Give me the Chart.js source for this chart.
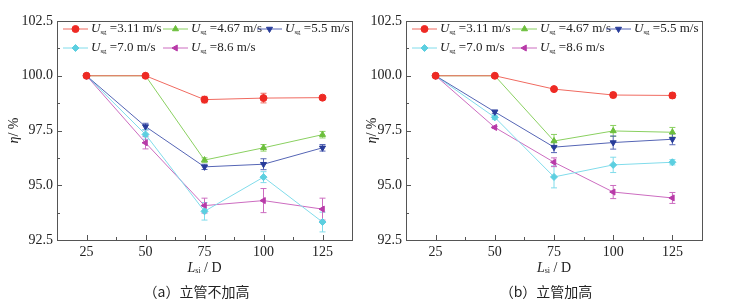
<!DOCTYPE html>
<html>
<head>
<meta charset="utf-8">
<script src="https://cdn.jsdelivr.net/npm/chart.js@4/dist/chart.umd.min.js"></script>
<style>
  body { margin: 0; background: #fff; }
  #wrap { position: relative; width: 732px; height: 307px; }
  canvas { position: absolute; top: 0; }
</style>
</head>
<body>
<div id="wrap">
  <canvas id="chart-a" width="366" height="307" style="left:0"></canvas>
  <canvas id="chart-b" width="366" height="307" style="left:366px"></canvas>
</div>
<script>
const xValues = [25, 50, 75, 100, 125];
const speedLabels = ['3.11', '4.67', '5.5', '7.0', '8.6'];
const yTickValues = [92.5, 95.0, 97.5, 100.0, 102.5];

// (a) riser not raised
const a311 = [100, 100, 98.91, 98.98, 99.0];
const a467 = [100, 100, 96.15, 96.71, 97.31];
const a55 = [100, 97.68, 95.84, 95.96, 96.71];
const a70 = [100, 97.32, 93.81, 95.37, 93.32];
const a86 = [100, 96.94, 94.07, 94.30, 93.91];
const aErr311 = [0, 0, 0.15, 0.22, 0.06];
const aErr467 = [0, 0, 0.1, 0.15, 0.15];
const aErr55 = [0, 0.15, 0.12, 0.25, 0.15];
const aErr70 = [0, 0.22, 0.4, 0.25, 0.45];
const aErr86 = [0, 0.28, 0.34, 0.55, 0.5];

// (b) riser raised
const b311 = [100, 100, 99.39, 99.12, 99.1];
const b467 = [100, 100, 97.02, 97.48, 97.42];
const b55 = [100, 98.35, 96.74, 96.95, 97.1];
const b70 = [100, 98.1, 95.38, 95.93, 96.05];
const b86 = [100, 97.64, 96.05, 94.69, 94.42];
const bErr311 = [0, 0, 0.05, 0.12, 0.12];
const bErr467 = [0, 0, 0.3, 0.25, 0.22];
const bErr55 = [0, 0.08, 0.25, 0.3, 0.25];
const bErr70 = [0, 0.1, 0.5, 0.35, 0.12];
const bErr86 = [0, 0.05, 0.2, 0.3, 0.25];

const seriesStyles = [
    { color: '#ee2a24', line: '#f06a60', pointStyle: 'circle', rotation: 0 },
    { color: '#6cbf3c', line: '#8ad060', pointStyle: 'triangle', rotation: 0 },
    { color: '#283c9a', line: '#5565b5', pointStyle: 'triangle', rotation: 180 },
    { color: '#5ccfe0', line: '#80dceb', pointStyle: 'rectRot', rotation: 0 },
    { color: '#b83aa8', line: '#cc6cc0', pointStyle: 'triangle', rotation: 270 },
];

const serif = '"Liberation Serif", "DejaVu Serif", serif';
const textColor = '#222';
const frameColor = '#555';

function drawParts(ctx, parts, x, y) {
    let cx = x;
    parts.forEach(p => {
        ctx.font = p.font;
        ctx.fillText(p.t, cx, y + (p.dy || 0));
        cx += ctx.measureText(p.t).width;
    });
    return cx - x;
}

function partsWidth(ctx, parts) {
    let w = 0;
    parts.forEach(p => { ctx.font = p.font; w += ctx.measureText(p.t).width; });
    return w;
}

// error bars drawn under the points, from each dataset's errors array
const errorBars = {
    id: 'errorBars',
    beforeDatasetsDraw(chart) {
        const ctx = chart.ctx;
        const x = chart.scales.x, y = chart.scales.y;
        chart.data.datasets.forEach(ds => {
            ctx.save();
            ctx.strokeStyle = ds.errColor;
            ctx.lineWidth = 1;
            ds.data.forEach((p, i) => {
                const e = ds.errors[i];
                if (!e) return;
                const px = x.getPixelForValue(p.x);
                const top = y.getPixelForValue(p.y + e);
                const bot = y.getPixelForValue(p.y - e);
                ctx.beginPath();
                ctx.moveTo(px, top); ctx.lineTo(px, bot);
                ctx.moveTo(px - 3, top); ctx.lineTo(px + 3, top);
                ctx.moveTo(px - 3, bot); ctx.lineTo(px + 3, bot);
                ctx.stroke();
            });
            ctx.restore();
        });
    }
};

const decor = {
    id: 'decor',
    afterDraw(chart, args, opts) {
        const ctx = chart.ctx;
        const area = chart.chartArea;
        const x = chart.scales.x, y = chart.scales.y;
        ctx.save();
        ctx.strokeStyle = frameColor;
        ctx.lineWidth = 1;
        ctx.strokeRect(Math.round(area.left) + 0.5, Math.round(area.top) + 0.5,
            Math.round(area.right - area.left), Math.round(area.bottom - area.top));

        // inward ticks
        ctx.beginPath();
        for (let v = 12.5; v <= 137.5; v += 12.5) {
            const px = Math.round(x.getPixelForValue(v)) + 0.5;
            const len = (v % 25 === 0) ? 5 : 3;
            ctx.moveTo(px, area.bottom); ctx.lineTo(px, area.bottom - len);
        }
        for (let v = 92.5; v <= 102.5; v += 1.25) {
            const py = Math.round(y.getPixelForValue(v)) + 0.5;
            const len = (Math.abs(v / 2.5 - Math.round(v / 2.5)) < 1e-6) ? 5 : 3;
            ctx.moveTo(area.left, py); ctx.lineTo(area.left + len, py);
        }
        ctx.stroke();

        // legend
        ctx.textBaseline = 'middle';
        ctx.textAlign = 'left';
        const cols = [6, 106, 200];
        chart.data.datasets.forEach((ds, i) => {
            const lx = area.left + cols[i % 3];
            const ly = area.top + (i < 3 ? 8 : 27);
            const st = seriesStyles[i];
            ctx.strokeStyle = st.line;
            ctx.beginPath();
            ctx.moveTo(lx, ly); ctx.lineTo(lx + 25, ly);
            ctx.stroke();
            ctx.fillStyle = st.color;
            ctx.strokeStyle = st.color;
            Chart.helpers.drawPoint(ctx, { pointStyle: st.pointStyle, rotation: st.rotation, radius: 3.5, borderWidth: 1 }, lx + 12.5, ly);
            ctx.fillStyle = textColor;
            drawParts(ctx, [
                { t: 'U', font: 'italic 13px ' + serif },
                { t: 'sg', font: '7px ' + serif, dy: 3 },
                { t: ' =' + speedLabels[i] + ' m/s', font: '13px ' + serif },
            ], lx + 28, ly);
        });

        // x axis title
        const xt = [
            { t: 'L', font: 'italic 14px ' + serif },
            { t: 'si', font: '8px ' + serif, dy: 3 },
            { t: ' / D', font: '14px ' + serif },
        ];
        const cx = (area.left + area.right) / 2;
        drawParts(ctx, xt, cx - partsWidth(ctx, xt) / 2, 268);

        // y axis title
        const yt = [
            { t: 'η', font: 'italic 14px ' + serif },
            { t: '/ %', font: '14px ' + serif },
        ];
        ctx.save();
        ctx.translate(opts.yTitleX, (area.top + area.bottom) / 2);
        ctx.rotate(-Math.PI / 2);
        drawParts(ctx, yt, -partsWidth(ctx, yt) / 2, 0);
        ctx.restore();

        // caption
        ctx.font = '14px "Noto Sans CJK SC", sans-serif';
        ctx.textAlign = 'center';
        ctx.fillText(opts.caption, cx - 8, 292);
        ctx.restore();
    }
};

function makeChart(id, series, errors, caption, yWidth, padRight, yTitleX) {
    const datasets = series.map((values, i) => ({
        label: speedLabels[i],
        data: values.map((v, j) => ({ x: xValues[j], y: v })),
        errors: errors[i],
        errColor: seriesStyles[i].line,
        borderColor: seriesStyles[i].line,
        backgroundColor: seriesStyles[i].color,
        pointBorderColor: seriesStyles[i].color,
        pointBackgroundColor: seriesStyles[i].color,
        pointStyle: seriesStyles[i].pointStyle,
        pointRotation: seriesStyles[i].rotation,
        pointRadius: 3.5,
        borderWidth: 1,
    }));

    return new Chart(document.getElementById(id), {
        type: 'line',
        data: { datasets: datasets },
        plugins: [errorBars, decor],
        options: {
            responsive: false,
            animation: false,
            layout: { padding: { top: 21, right: padRight, left: 0, bottom: 0 } },
            plugins: {
                legend: { display: false },
                tooltip: { enabled: false },
                decor: { caption: caption, yTitleX: yTitleX },
            },
            scales: {
                x: {
                    type: 'linear',
                    min: 12.5,
                    max: 137.5,
                    afterBuildTicks: s => { s.ticks = xValues.map(v => ({ value: v })); },
                    afterFit: s => { s.height = 67; },
                    grid: { display: false, drawTicks: false },
                    border: { display: false },
                    ticks: { color: textColor, padding: 4, maxRotation: 0, font: { family: serif, size: 14 } },
                },
                y: {
                    min: 92.5,
                    max: 102.5,
                    afterBuildTicks: s => { s.ticks = yTickValues.map(v => ({ value: v })); },
                    afterFit: s => { s.width = yWidth; },
                    grid: { display: false, drawTicks: false },
                    border: { display: false },
                    ticks: { color: textColor, padding: 4, callback: v => v.toFixed(1), font: { family: serif, size: 14 } },
                },
            },
        },
    });
}

makeChart('chart-a', [a311, a467, a55, a70, a86], [aErr311, aErr467, aErr55, aErr70, aErr86],
    '（a）立管不加高', 57, 14, 14);
makeChart('chart-b', [b311, b467, b55, b70, b86], [bErr311, bErr467, bErr55, bErr70, bErr86],
    '（b）立管加高', 40, 30, 6);
</script>
</body>
</html>
